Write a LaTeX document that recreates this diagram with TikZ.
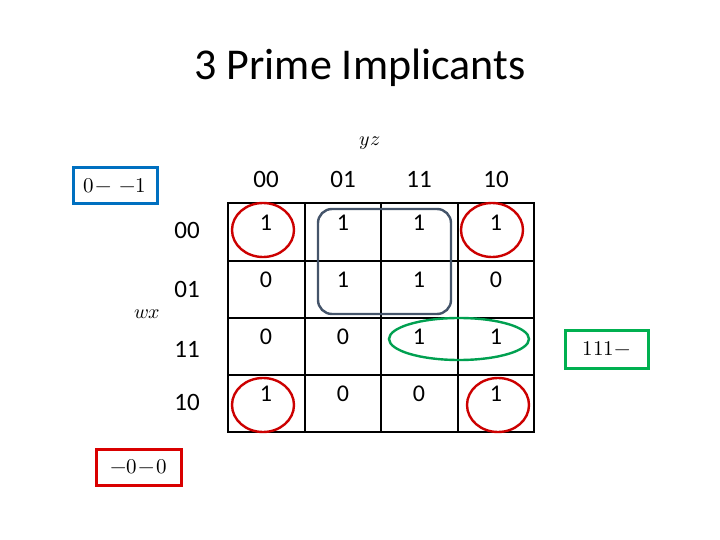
\documentclass[tikz,border=0pt]{standalone}
\usepackage{fontspec}
\setmainfont{Carlito}
\usepackage{unicode-math}
\setmathfont{Latin Modern Math}
\begin{document}
\begin{tikzpicture}[x=1pt,y=-1pt,
  lab/.style={font=\fontsize{25}{30}\selectfont},
  mlab/.style={font=\fontsize{20}{24}\selectfont},
  num/.style={font=\fontsize{24}{28}\selectfont},
  grid/.style={line width=1.6pt},
  redc/.style={draw=red!80!black,line width=2.4pt},
  imp/.style={line width=3pt,inner sep=0pt,font=\fontsize{21}{25}\selectfont}]
\useasboundingbox (0,0) rectangle (720,540);
\node[font=\fontsize{44}{52}\selectfont] (title) at (360,68) {3 Prime Implicants};
\node[mlab] (yz) at (370,143) {$yz$};
\node[mlab] (wx) at (147,314) {$wx$};
\foreach \t/\x in {00/266,01/343,11/419,10/496} \node[lab] (c\t) at (\x,179) {\t};
\foreach \t/\y in {00/230,01/289,11/349,10/402} \node[lab] (r\t) at (187,\y) {\t};
\draw[grid] (228,203) rectangle (534,432);
\foreach \x in {305,381,458} \draw[grid] (\x,203) -- (\x,432);
\foreach \y in {261,318,375} \draw[grid] (228,\y) -- (534,\y);
\foreach \r/\y/\a/\b/\c/\d in {0/223/1/1/1/1,1/280/0/1/1/0,2/337/0/0/1/1,3/394/1/0/0/1}{
  \node[num] (n\r a) at (266,\y) {\a};
  \node[num] (n\r b) at (343,\y) {\b};
  \node[num] (n\r c) at (419,\y) {\c};
  \node[num] (n\r d) at (496,\y) {\d};
}
\draw[redc] (263,230) ellipse (31 and 27);
\draw[redc] (492,230) ellipse (31 and 27);
\draw[redc] (263,405) ellipse (31 and 27);
\draw[redc] (498,405) ellipse (31 and 27);
\draw[draw={rgb,255:red,68;green,84;blue,106},line width=2.4pt,rounded corners=14pt] (318,209) rectangle (451,314);
\draw[draw={rgb,255:red,0;green,160;blue,80},line width=2.4pt] (459,339) ellipse (70 and 21);
\node[imp,draw={rgb,255:red,0;green,112;blue,192},minimum width=84pt,minimum height=36pt] (b1) at (115,186) {$0\!-\,-1$};
\node[imp,draw=red!85!black,minimum width=85pt,minimum height=36pt] (b2) at (138.5,467) {$-0\!-\!0$};
\node[imp,draw={rgb,255:red,0;green,176;blue,80},minimum width=83pt,minimum height=38pt] (b3) at (606.5,349) {$111-$};
\end{tikzpicture}
\end{document}
